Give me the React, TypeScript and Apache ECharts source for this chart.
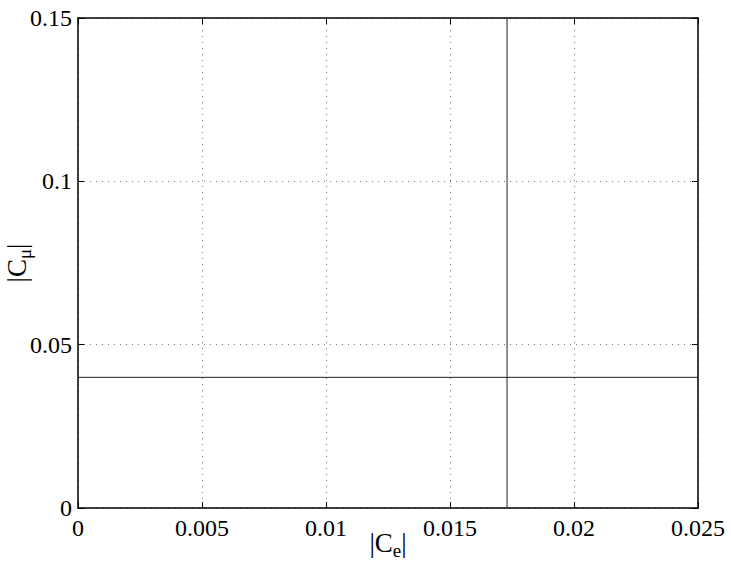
import React, { useEffect, useRef } from "react";
import * as echarts from "echarts";

const xRange = [0, 0.025];
const yRange = [0, 0.15];
const xTicks = [0, 0.005, 0.01, 0.015, 0.02, 0.025];
const yTicks = [0, 0.05, 0.1, 0.15];
const ceBoundary = [0.0173];
const cmuBoundary = [0.04];

const FONT = "Liberation Serif";

export default function App() {
  const ref = useRef<HTMLDivElement>(null);
  useEffect(() => {
    if (!ref.current) return;
    const chart = echarts.init(ref.current, undefined, { renderer: "svg" });
    const fmt = (v: number) => String(Number(v.toFixed(4)));
    const splitDotted = { show: true, lineStyle: { color: "#777", width: 1, type: [1, 5] as any } };
    const axisLine = { show: true, onZero: false, lineStyle: { color: "#000", width: 1.5 } };
    const tick = { show: true, inside: true, length: 6, lineStyle: { color: "#000", width: 1 } };
    const xInterval = xTicks[1] - xTicks[0];
    const yInterval = yTicks[1] - yTicks[0];
    const richName = {
      b: { fontFamily: FONT, fontSize: 27, color: "#000" },
      s: { fontFamily: FONT, fontSize: 19, color: "#000", padding: [16, 0, 0, 0] },
    };
    chart.setOption({
      animation: false,
      backgroundColor: "#fff",
      textStyle: { fontFamily: FONT },
      grid: { left: 78, right: 33, top: 18, bottom: 62, containLabel: false, outerBoundsMode: "none" },
      xAxis: [
        {
          type: "value",
          position: "bottom",
          min: xRange[0],
          max: xRange[1],
          interval: xInterval,
          axisLine,
          axisTick: tick,
          splitLine: splitDotted,
          axisLabel: {
            margin: 8,
            fontFamily: FONT,
            fontSize: 24,
            color: "#000",
            formatter: fmt,
          },
          name: "{b||C}{s|e}{b||}",
          nameLocation: "middle",
          nameMoveOverlap: false,
          nameGap: 17,
          nameTextStyle: { fontFamily: FONT, fontSize: 27, color: "#000", rich: richName },
        },
        {
          type: "value",
          position: "top",
          min: xRange[0],
          max: xRange[1],
          interval: xInterval,
          axisLine,
          axisTick: tick,
          splitLine: { show: false },
          axisLabel: { show: false },
        },
      ],
      yAxis: [
        {
          type: "value",
          position: "left",
          min: yRange[0],
          max: yRange[1],
          interval: yInterval,
          axisLine,
          axisTick: tick,
          splitLine: splitDotted,
          axisLabel: {
            margin: 6,
            fontFamily: FONT,
            fontSize: 24,
            color: "#000",
            formatter: fmt,
          },
          name: "{b||C}{s|μ}{b||}",
          nameLocation: "middle",
          nameMoveOverlap: false,
          nameRotate: 90,
          nameGap: 44,
          nameTextStyle: { fontFamily: FONT, fontSize: 27, color: "#000", rich: richName },
        },
        {
          type: "value",
          position: "right",
          min: yRange[0],
          max: yRange[1],
          interval: yInterval,
          axisLine,
          axisTick: tick,
          splitLine: { show: false },
          axisLabel: { show: false },
        },
      ],
      series: [
        {
          type: "line",
          xAxisIndex: 0,
          yAxisIndex: 0,
          symbol: "none",
          lineStyle: { color: "#222", width: 1 },
          data: [
            [xRange[0], cmuBoundary[0]],
            [xRange[1], cmuBoundary[0]],
          ],
        },
        {
          type: "line",
          xAxisIndex: 0,
          yAxisIndex: 0,
          symbol: "none",
          lineStyle: { color: "#222", width: 1 },
          data: [
            [ceBoundary[0], yRange[0]],
            [ceBoundary[0], yRange[1]],
          ],
        },
      ],
    });
    return () => chart.dispose();
  }, []);
  return <div ref={ref} style={{ width: 731, height: 570, position: "absolute", left: 0, top: 0 }} />;
}
